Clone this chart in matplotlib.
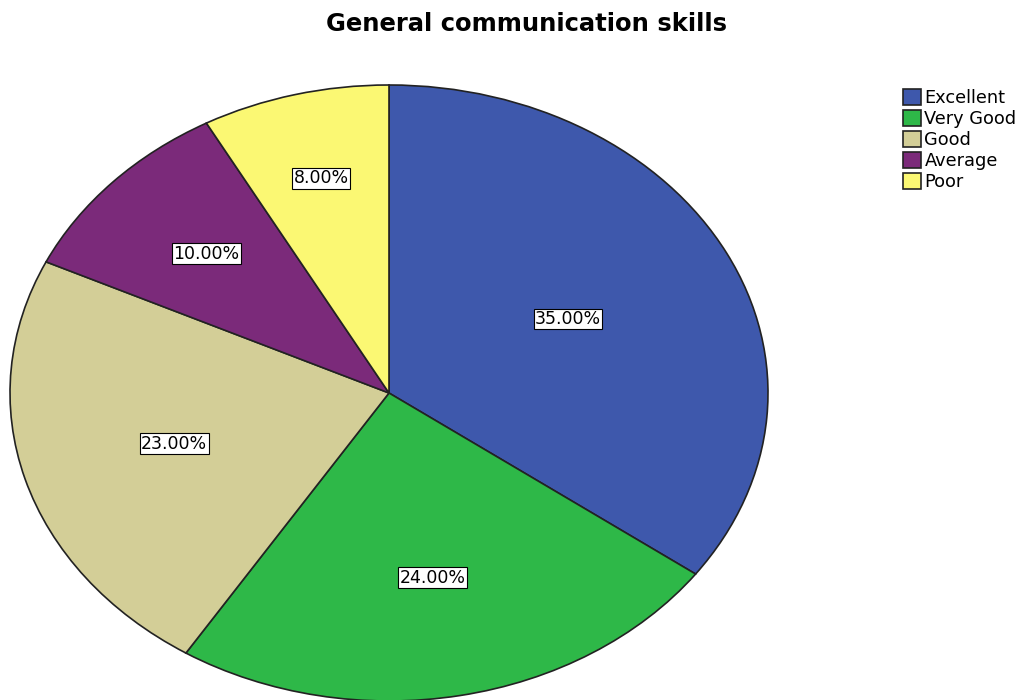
import numpy as np
import matplotlib.pyplot as plt

# data
categories = ['Excellent', 'Very Good', 'Good', 'Average', 'Poor']
percents = [35.0, 24.0, 23.0, 10.0, 8.0]
colors = ['#3E58AC', '#2EB848', '#D3CE97', '#7B2A7A', '#FBF873']
title = 'General communication skills'

# how far out each percent label sits (fraction of radius)
label_dist = [0.53, 0.61, 0.59, 0.66, 0.72]

plt.rcParams['font.family'] = ['DejaVu Sans']

fig = plt.figure(figsize=(10.28, 7.0), dpi=100)
# pie is stretched into an ellipse, so put it in its own axes with auto aspect
ax = fig.add_axes([10 / 1028, -1 / 700, 758 / 1028, 616 / 700])

wedges, texts, autotexts = ax.pie(
    percents, colors=colors, startangle=90, counterclock=False,
    autopct='%.2f%%', pctdistance=0.6,
    wedgeprops=dict(edgecolor='#222222', linewidth=1.2),
    textprops=dict(fontsize=12.5, color='black'),
)
for w, t, d in zip(wedges, autotexts, label_dist):
    ang = np.deg2rad((w.theta1 + w.theta2) / 2)
    t.set_position((d * np.cos(ang), d * np.sin(ang)))
    t.set_bbox(dict(facecolor='white', edgecolor='black', linewidth=0.8, pad=1.0))
    w.set_clip_on(False)

ax.set_aspect('auto')
ax.set_xlim(-1, 1)
ax.set_ylim(-1, 1)
ax.axis('off')

fig.text(527 / 1028, 1 - 24 / 700, title, ha='center', va='center',
         fontsize=17.5, fontweight='bold')

fig.legend(wedges, categories, loc='upper left',
           bbox_to_anchor=(896 / 1028, 1 - 82 / 700), frameon=False,
           fontsize=12.8, handlelength=1.0, handleheight=1.0,
           handletextpad=0.2, labelspacing=0.16, borderaxespad=0)

fig.savefig('out.png', dpi=100)
